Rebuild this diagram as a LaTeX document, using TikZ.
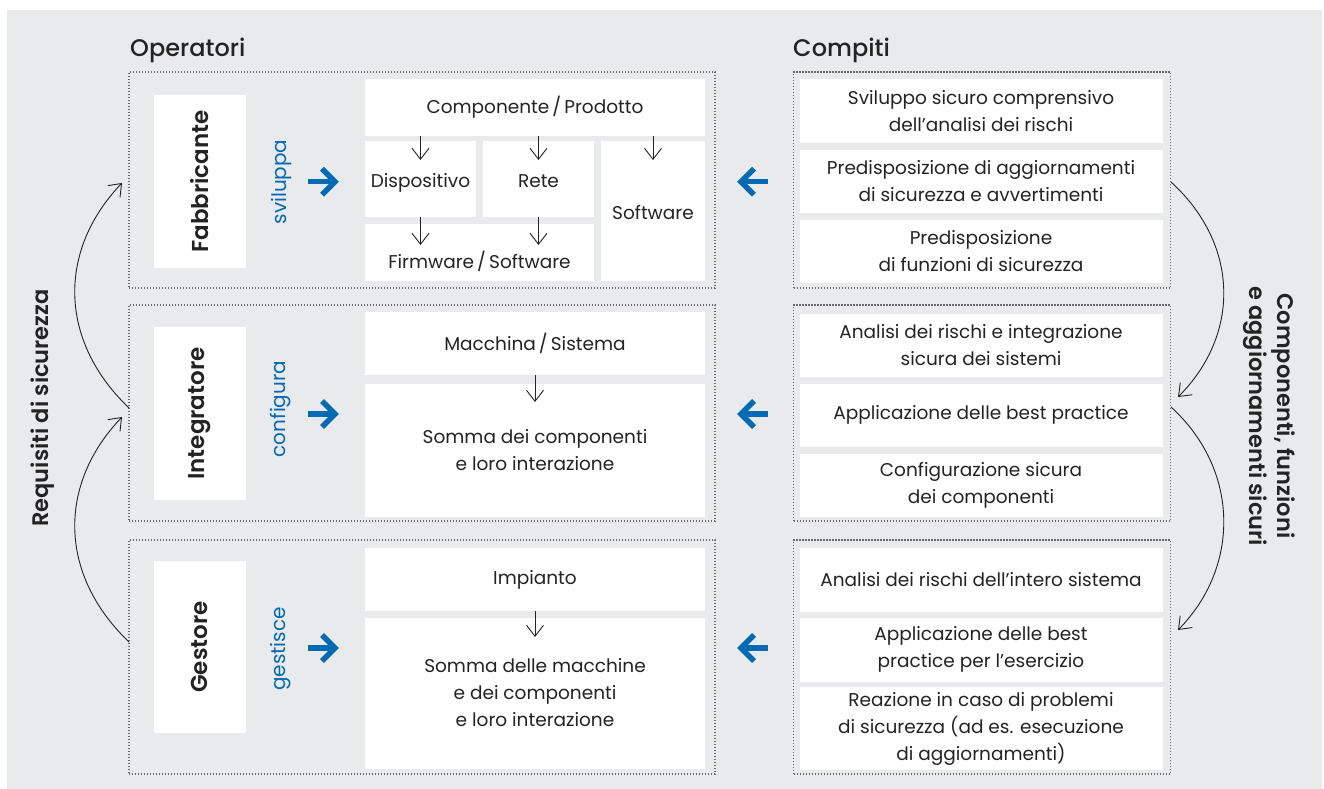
\documentclass[tikz,border=0pt]{standalone}
\usepackage{fontspec}
\setmainfont{Poppins}
\newfontfamily\fmed{Poppins Medium}
\newfontfamily\fsemi{Poppins SemiBold}
\usetikzlibrary{arrows.meta}
\definecolor{bgc}{RGB}{233,234,236}
\definecolor{ink}{RGB}{35,35,35}
\definecolor{dotc}{RGB}{105,105,105}
\definecolor{blu}{RGB}{0,106,180}

\begin{document}
\begin{tikzpicture}[x=1pt,y=-1pt,
  group/.style={draw=dotc, line width=1.1pt, dash pattern=on 1.1pt off 1.9pt,
    inner sep=0pt, outer sep=0pt},
  wbox/.style={fill=white, inner sep=0pt, outer sep=0pt, align=center, text=ink,
    font=\fontsize{18.5}{27}\selectfont},
  actor/.style={fill=white, inner sep=0pt, outer sep=0pt, rotate=90, text=ink,
    font=\fontsize{23}{26}\fsemi},
  verb/.style={rotate=90, text=blu, inner sep=0pt, font=\fontsize{20}{22}\selectfont},
  header/.style={text=ink, inner sep=0pt, font=\fontsize{24}{27}\fmed},
  side/.style={text=ink, inner sep=0pt, align=center, font=\fontsize{22.5}{28}\fsemi},
  plain/.style={text=ink, inner sep=0pt, font=\fontsize{18.5}{27}\selectfont},
  fat/.style={draw=blu, line width=5.5pt},
  fathead/.style={draw=blu, line width=5.5pt, line join=miter},
  thinarr/.style={draw=ink, line width=0.9pt, -{Straight Barb[length=11pt,width=17pt]}},
  arc/.style={draw=ink, line width=0.9pt, -{Straight Barb[length=11pt,width=17pt]}}
]
\useasboundingbox (0,0) rectangle (1324,789);
\fill[bgc] (7,10) rectangle (1322,789);

% column titles
\node[header, anchor=base west] (ops) at (130,57) {Operatori};
\node[header, anchor=base west] (tasks) at (793,57) {Compiti};

% dotted frames
\node[group, minimum width=586pt, minimum height=216pt] (g1) at (422,180) {};
\node[group, minimum width=586pt, minimum height=216pt] (g2) at (422,413) {};
\node[group, minimum width=586pt, minimum height=234pt] (g3) at (422,657) {};
\node[group, minimum width=377pt, minimum height=216pt] (r1) at (982,180) {};
\node[group, minimum width=377pt, minimum height=216pt] (r2) at (982,413) {};
\node[group, minimum width=377pt, minimum height=234pt] (r3) at (982,657) {};

% operators
\node[actor, minimum width=173pt, minimum height=91.5pt] (fab) at (199.75,181.5) {Fabbricante};
\node[actor, minimum width=173pt, minimum height=91.5pt] (int) at (199.75,413.5) {Integratore};
\node[actor, minimum width=172pt, minimum height=91.5pt] (ges) at (199.75,647) {Gestore};

\node[verb] (v1) at (281,182) {sviluppa};
\node[verb] (v2) at (281,409) {configura};
\node[verb] (v3) at (281,649) {gestisce};

% blue arrows towards the products
\coordinate (a1s) at (308,181.7); \coordinate (a1e) at (335,181.7);
\coordinate (a2s) at (308,414);   \coordinate (a2e) at (335,414);
\coordinate (a3s) at (308,648);   \coordinate (a3e) at (335,648);
\foreach \a in {1,2,3}{
  \draw[fat] (a\a s) -- ([xshift=-3pt]a\a e);
  \draw[fathead] ([shift={(-13,-13)}]a\a e) -- (a\a e) -- ([shift={(-13,13)}]a\a e);
}

% blue arrows from the tasks
\coordinate (b1s) at (768,181.7); \coordinate (b1e) at (741,181.7);
\coordinate (b2s) at (768,414);   \coordinate (b2e) at (741,414);
\coordinate (b3s) at (768,648);   \coordinate (b3e) at (741,648);
\foreach \a in {1,2,3}{
  \draw[fat] (b\a s) -- ([xshift=3pt]b\a e);
  \draw[fathead] ([shift={(13,-13)}]b\a e) -- (b\a e) -- ([shift={(13,13)}]b\a e);
}

% manufacturer: component breakdown
\node[wbox, minimum width=340pt, minimum height=56pt] (comp) at (535,107.5) {Componente\,/\,Prodotto};
\node[wbox, minimum width=111pt, minimum height=76pt] (disp) at (420.5,179) {};
\node[wbox, minimum width=111pt, minimum height=76pt] (rete) at (538.5,179) {};
\node[wbox, minimum width=104pt, minimum height=140pt] (soft) at (653,211) {};
\node[wbox, minimum width=229pt, minimum height=57pt] (firm) at (479.5,252.5) {};
\coordinate (bl1) at (0,187);
\coordinate (bl2) at (0,219);
\coordinate (bl3) at (0,268);
\node[plain, anchor=base] (dispt) at (disp.center |- bl1) {Dispositivo};
\node[plain, anchor=base] (retet) at (rete.center |- bl1) {Rete};
\node[plain, anchor=base] (softt) at (soft.center |- bl2) {Software};
\node[plain, anchor=base] (firmt) at (firm.center |- bl3) {Firmware\,/\,Software};

\coordinate (t1) at (0,160);
\coordinate (t2) at (0,245);
\draw[thinarr] (comp.south -| disp.north) -- (disp.north |- t1);
\draw[thinarr] (comp.south -| rete.north) -- (rete.north |- t1);
\draw[thinarr] (comp.south -| soft.north) -- (soft.north |- t1);
\draw[thinarr] (disp.south) -- (disp.south |- t2);
\draw[thinarr] (rete.south) -- (rete.south |- t2);

% integrator
\node[wbox, minimum width=340pt, minimum height=63pt] (macc) at (535,343.5) {\raisebox{-1.5pt}{Macchina\,/\,Sistema}};
\node[wbox, minimum width=340pt, minimum height=133pt] (som1) at (535,450.5) {Somma dei componenti\\e loro interazione};
\coordinate (t3) at (0,402);
\draw[thinarr] (macc.south) -- (macc.south |- t3);

% operator of the plant
\node[wbox, minimum width=340pt, minimum height=63pt] (imp) at (535,579.5) {Impianto};
\node[wbox, minimum width=340pt, minimum height=151pt] (som2) at (535,693) {Somma delle macchine\\e dei componenti\\e loro interazione};
\coordinate (t4) at (0,637);
\draw[thinarr] (imp.south) -- (imp.south |- t4);

% tasks
\node[wbox, minimum width=363pt, minimum height=63pt] (k1) at (981,111) {Sviluppo sicuro comprensivo\\dell’analisi dei rischi};
\node[wbox, minimum width=363pt, minimum height=63pt] (k2) at (981,181) {Predisposizione di aggiornamenti\\di sicurezza e avvertimenti};
\node[wbox, minimum width=363pt, minimum height=63pt] (k3) at (981,251) {Predisposizione\\di funzioni di sicurezza};
\node[wbox, minimum width=363pt, minimum height=63pt] (k4) at (981,345) {Analisi dei rischi e integrazione\\sicura dei sistemi};
\node[wbox, minimum width=363pt, minimum height=63pt] (k5) at (981,415) {Applicazione delle best practice};
\node[wbox, minimum width=363pt, minimum height=63pt] (k6) at (981,485) {Configurazione sicura\\dei componenti};
\node[wbox, minimum width=363pt, minimum height=64pt] (k7) at (981,579.5) {Analisi dei rischi dell’intero sistema};
\node[wbox, minimum width=363pt, minimum height=64pt] (k8) at (981,649.5) {Applicazione delle best\\practice per l’esercizio};
\node[wbox, minimum width=363pt, minimum height=83pt] (k9) at (981,728.5) {Reazione in caso di problemi\\di sicurezza (ad es. esecuzione\\di aggiornamenti)};

% side labels
\node[side, rotate=90] (req) at (43,408) {Requisiti di sicurezza};
\node[side, rotate=-90] (cfa) at (1269,416) {Componenti, funzioni\\e aggiornamenti sicuri};

% curved flows
\coordinate (l1s) at (129,408); \coordinate (l1e) at (122,183);
\coordinate (l2s) at (129,642); \coordinate (l2e) at (122,417);
\coordinate (q1s) at (1171,182); \coordinate (q1e) at (1178,397);
\coordinate (q2s) at (1171,407); \coordinate (q2e) at (1178,630);
\draw[arc] (l1s) .. controls (58,340) and (58,250) .. (l1e);
\draw[arc] (l2s) .. controls (58,574) and (58,484) .. (l2e);
\draw[arc] (q1s) .. controls (1240,245) and (1240,335) .. (q1e);
\draw[arc] (q2s) .. controls (1240,470) and (1240,567) .. (q2e);
\end{tikzpicture}
\end{document}
